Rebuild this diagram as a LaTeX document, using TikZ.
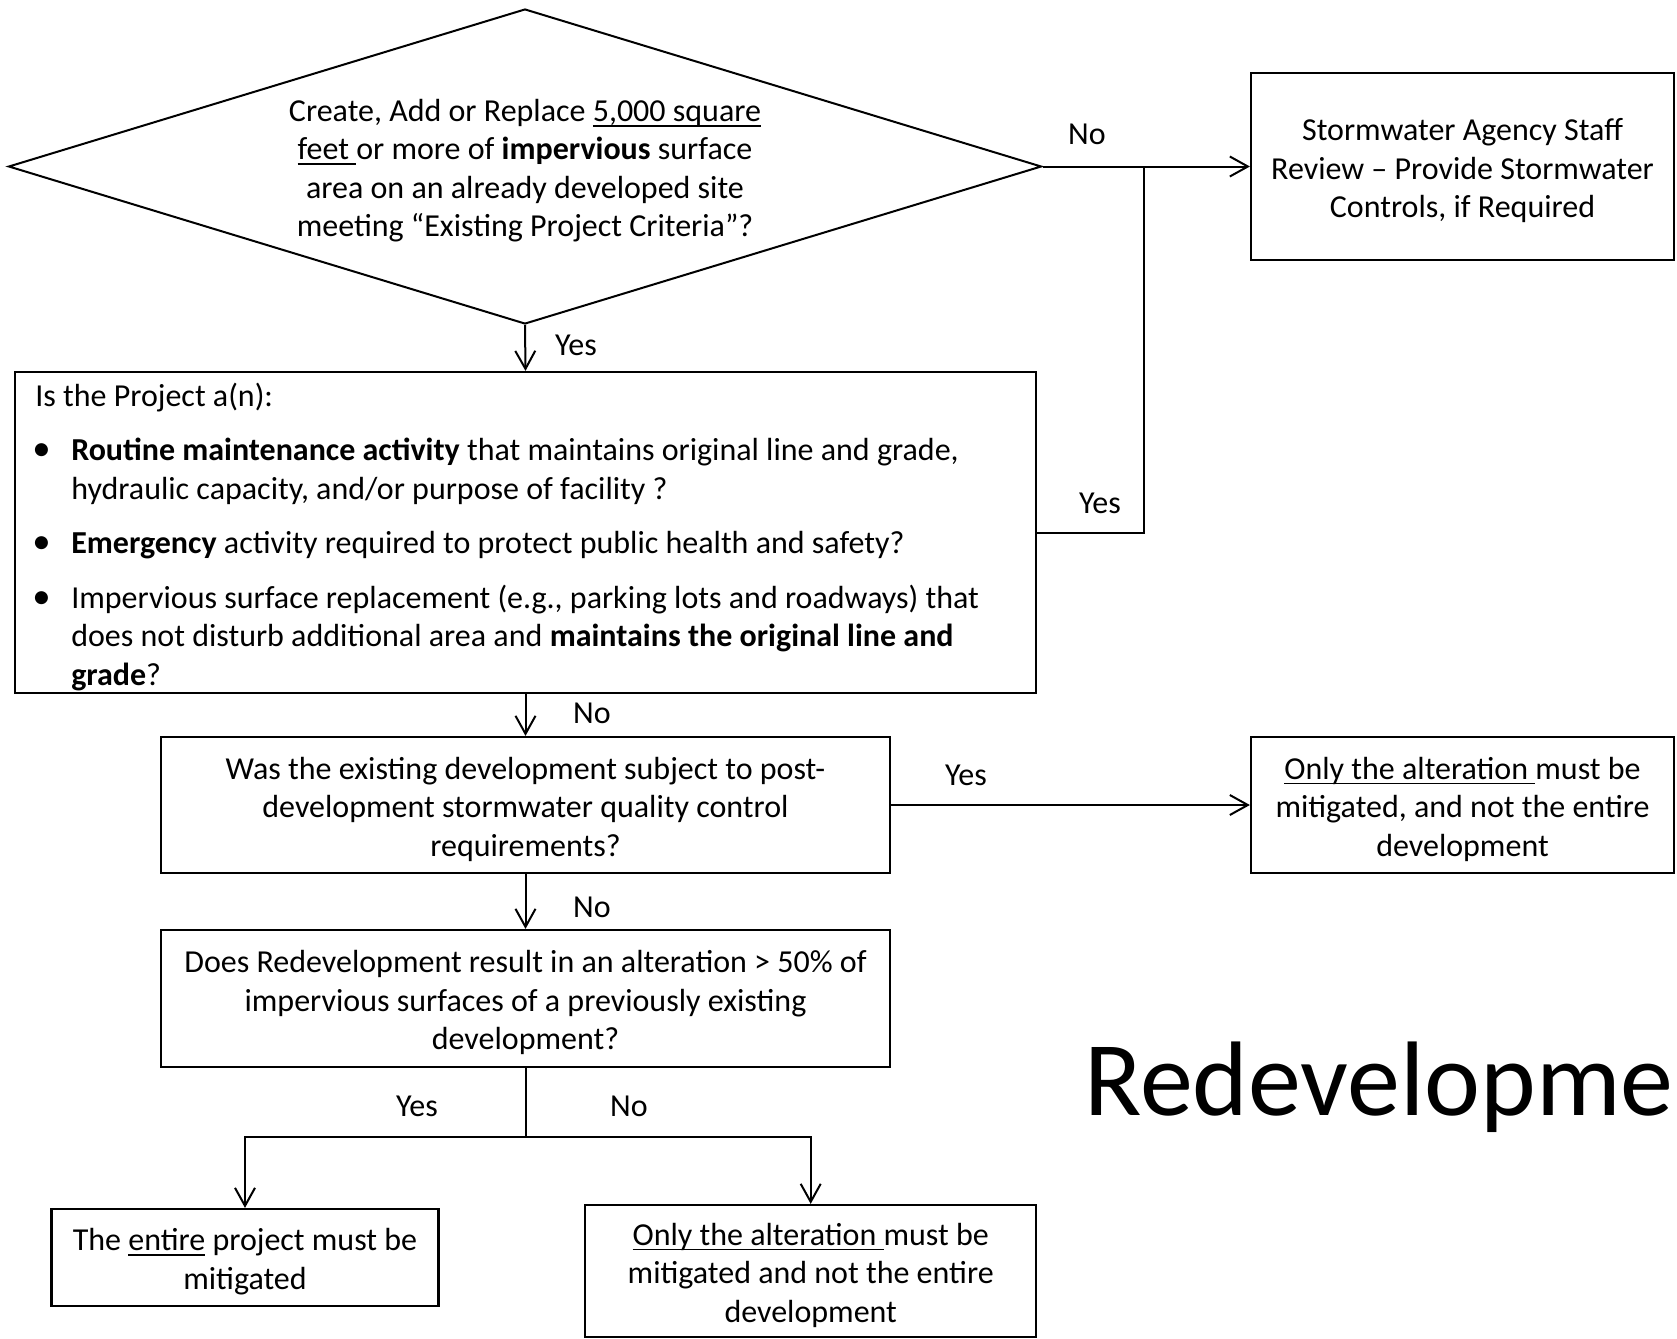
\documentclass[tikz,border=0pt]{standalone}
\usepackage{fontspec}
\setmainfont{Carlito}
\usetikzlibrary{shapes.geometric,arrows.meta,calc}
\newsavebox\ulbox
\newcommand\ulx[1]{\sbox\ulbox{#1}\rlap{\rule[-2.6pt]{\wd\ulbox}{0.9pt}}\usebox\ulbox}
\newcommand\bbul{\hspace*{-1.5pt}\makebox[19.5pt][l]{\scalebox{1.15}{•}}}
\newcommand\bind{\hspace*{18pt}}
\begin{document}
\begin{tikzpicture}[x=0.5pt,y=-0.5pt,
  font=\fontsize{16pt}{19.25pt}\selectfont,
  box/.style={draw, line width=1.1pt, inner sep=0pt},
  txt/.style={align=center, inner sep=0pt, yshift=-2.1pt},
  lbl/.style={inner sep=0pt},
  conn/.style={line width=1pt},
  arr/.style={conn, -{Straight Barb[length=9pt,width=10pt,line width=1pt]}}]
\useasboundingbox (0,0) rectangle (1677,1339);
\fill[white] (0,0) rectangle (1677,1339);

\node[diamond, draw, line width=1pt, minimum width=516.5pt, minimum height=157.5pt, inner sep=0pt] (d) at (525,166.5) {};
\node[txt] (dt) at (d.center) {Create, Add or Replace \ulx{5,000 square}\\
\ulx{feet\ }or more of \textbf{impervious} surface\\
area on an already developed site\\
meeting “Existing Project Criteria”?};

\node[box, minimum width=211.5pt, minimum height=93.5pt] (s) at (1462.5,166.5) {};
\node[txt] (st) at (s.center) {Stormwater Agency Staff\\
Review – Provide Stormwater\\
Controls, if Required};

\node[box, minimum width=510.5pt, minimum height=160.5pt] (b1) at (525.5,532.5) {};
\node[align=left, inner sep=0pt, anchor=west, yshift=-2.1pt] (b1t) at ($(b1.west)+(21,0)$) {Is the Project a(n):\\[8pt]
\bbul\textbf{Routine maintenance activity} that maintains original line and grade,\\
\bind hydraulic capacity, and/or purpose of facility ?\\[8pt]
\bbul\textbf{Emergency} activity required to protect public health and safety?\\[8pt]
\bbul Impervious surface replacement (e.g., parking lots and roadways) that\\
\bind does not disturb additional area and \textbf{maintains the original line and}\\
\bind\textbf{grade}?};

\node[box, minimum width=364.5pt, minimum height=68pt] (b2) at (525.5,805) {};
\node[txt] (b2t) at (b2.center) {Was the existing development subject to post-\\
development stormwater quality control\\
requirements?};

\node[box, minimum width=211.5pt, minimum height=68pt] (b3) at (1462.5,805) {};
\node[txt] (b3t) at (b3.center) {\ulx{Only the alteration\ }must be\\
mitigated, and not the entire\\
development};

\node[box, minimum width=364.5pt, minimum height=68.5pt] (b4) at (525.5,998.5) {};
\node[txt] (b4t) at (b4.center) {Does Redevelopment result in an alteration > 50\% of\\
impervious surfaces of a previously existing\\
development?};

\node[box, minimum width=193.5pt, minimum height=48.5pt] (b5) at (245,1257.5) {};
\node[txt] (b5t) at (b5.center) {The \ulx{entire} project must be\\
mitigated};

\node[box, minimum width=225.5pt, minimum height=66pt] (b6) at (810.7,1271) {};
\node[txt] (b6t) at (b6.center) {\ulx{Only the alteration\ }must be\\
mitigated and not the entire\\
development};

\coordinate (j) at (1144,166.5);
\coordinate (sp) at (525.5,1137);
\draw[arr] (d.east) -- (s.west);
\draw[conn] (b1.east) -| (j);
\draw[arr] (d.south) -- (b1.north);
\draw[arr] (b1.south) -- (b2.north);
\draw[arr] (b2.east) -- (b3.west);
\draw[arr] (b2.south) -- (b4.north);
\draw[conn] (b4.south) -- (sp);
\draw[arr] (sp) -| (b5.north);
\draw[arr] (sp) -| (b6.north);

\node[lbl] (l1) at (1087,134) {No};
\node[lbl] (l2) at (576,345) {Yes};
\node[lbl] (l3) at (1100,503) {Yes};
\node[lbl] (l4) at (592,713) {No};
\node[lbl] (l5) at (966,775) {Yes};
\node[lbl] (l6) at (592,907) {No};
\node[lbl] (l7) at (417,1106) {Yes};
\node[lbl] (l8) at (629,1106) {No};

\node[inner sep=0pt, anchor=base west, font=\fontsize{53pt}{60pt}\selectfont] (title) at (1084,1115) {Redevelopme};
\end{tikzpicture}
\end{document}
